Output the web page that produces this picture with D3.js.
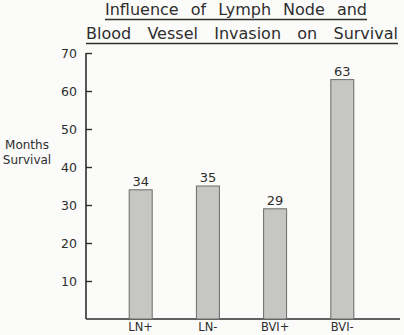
<!DOCTYPE html>
<html>
<head>
<meta charset="utf-8">
<script src="https://cdn.jsdelivr.net/npm/d3@7"></script>
<style>
  body { margin: 0; background: #fbfbfa; }
  svg { display: block; font-family: "DejaVu Sans", sans-serif; }
</style>
</head>
<body>
<div id="chart"></div>
<script>
// Chart data
var categories = ["LN+", "LN-", "BVI+", "BVI-"];
var survival = [34, 35, 29, 63];
var yTicks = [10, 20, 30, 40, 50, 60, 70];
var titleLines = ["Influence of Lymph Node and", "Blood Vessel Invasion on Survival"];

function main() {
    var width = 404, height = 335;
    var ink = "#2e2e2e";

    var svg = d3.select("#chart").append("svg")
        .attr("width", width)
        .attr("height", height);

    var y = d3.scaleLinear().domain([0, 70]).range([319, 53]);
    var x = d3.scalePoint().domain(categories).range([140.7, 342.3]);
    var barW = 23;

    // Title: words spread over the underline width
    var titleSpec = [
        { x0: 105, x1: 367, base: 15, line: 19.5 },
        { x0: 86, x1: 398, base: 38.5, line: 43.5 }
    ];
    titleLines.forEach(function (t, i) {
        var s = titleSpec[i];
        var words = t.split(" ");
        var nodes = words.map(function (w) {
            return svg.append("text")
                .attr("y", s.base)
                .attr("font-size", 16)
                .attr("fill", ink)
                .text(w);
        });
        var widths = nodes.map(function (n) { return n.node().getComputedTextLength(); });
        var gap = (s.x1 - s.x0 - d3.sum(widths)) / (words.length - 1);
        var cx = s.x0;
        nodes.forEach(function (n, k) {
            n.attr("x", cx);
            cx += widths[k] + gap;
        });
        svg.append("line")
            .attr("x1", s.x0).attr("x2", s.x1)
            .attr("y1", s.line).attr("y2", s.line)
            .attr("stroke", ink).attr("stroke-width", 1.6);
    });

    // Y axis with inward ticks
    var yAxis = d3.axisRight(y).tickValues(yTicks).tickSize(6).tickFormat("");
    var ya = svg.append("g").attr("transform", "translate(86,0)").call(yAxis);
    ya.select(".domain").remove();
    ya.selectAll(".tick line").attr("stroke", ink).attr("stroke-width", 1.4);
    svg.append("line")
        .attr("x1", 86).attr("x2", 86)
        .attr("y1", y(70)).attr("y2", y(0))
        .attr("stroke", ink).attr("stroke-width", 1.6);

    svg.selectAll(".ylab")
        .data(yTicks)
        .enter().append("text")
        .attr("class", "ylab")
        .attr("x", 77)
        .attr("y", function (d) { return y(d) + 4.5; })
        .attr("text-anchor", "end")
        .attr("font-size", 12.5)
        .attr("fill", ink)
        .text(function (d) { return d; });

    // Baseline
    svg.append("line")
        .attr("x1", 86).attr("x2", 400)
        .attr("y1", y(0)).attr("y2", y(0))
        .attr("stroke", ink).attr("stroke-width", 1.6);

    // Y title
    svg.append("text")
        .attr("x", 27).attr("y", 149)
        .attr("text-anchor", "middle")
        .attr("font-size", 12)
        .attr("fill", ink)
        .text("Months");
    svg.append("text")
        .attr("x", 27).attr("y", 164)
        .attr("text-anchor", "middle")
        .attr("font-size", 12)
        .attr("fill", ink)
        .text("Survival");

    // Bars
    svg.selectAll(".bar")
        .data(survival)
        .enter().append("rect")
        .attr("class", "bar")
        .attr("x", function (d, i) { return x(categories[i]) - barW / 2; })
        .attr("y", function (d) { return y(d); })
        .attr("width", barW)
        .attr("height", function (d) { return y(0) - y(d); })
        .attr("fill", "#c6c6c4")
        .attr("stroke", "#6a6a6a")
        .attr("stroke-width", 1);

    // Value labels
    svg.selectAll(".val")
        .data(survival)
        .enter().append("text")
        .attr("class", "val")
        .attr("x", function (d, i) { return x(categories[i]); })
        .attr("y", function (d) { return y(d) - 4; })
        .attr("text-anchor", "middle")
        .attr("font-size", 13)
        .attr("fill", ink)
        .text(function (d) { return d; });

    // Category labels
    svg.selectAll(".cat")
        .data(categories)
        .enter().append("text")
        .attr("class", "cat")
        .attr("x", function (d) { return x(d); })
        .attr("y", 331)
        .attr("text-anchor", "middle")
        .attr("font-size", 11.5)
        .attr("fill", ink)
        .text(function (d) { return d; });
}

main();
</script>
</body>
</html>
